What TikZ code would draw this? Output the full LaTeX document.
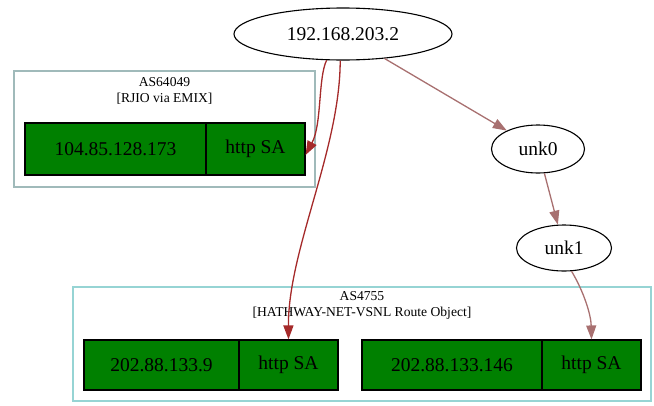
\documentclass[tikz,border=0pt]{standalone}
\usepackage{fontspec}
\setmainfont{Liberation Serif}
\usetikzlibrary{arrows.meta,shapes.geometric}
\definecolor{webgreen}{RGB}{0,128,0}
\definecolor{edgeB}{RGB}{165,42,42}
\definecolor{edgeR}{RGB}{168,112,112}
\definecolor{clA}{RGB}{160,186,186}
\definecolor{clB}{RGB}{150,212,212}
\tikzset{
  ellnode/.style={ellipse, draw=black, line width=1.1pt, fill=white, inner sep=0pt,
    font=\fontsize{19.5}{22}\selectfont},
  cellbox/.style={rectangle, draw=black, line width=1.1pt, fill=webgreen, inner sep=0pt,
    font=\fontsize{19.5}{22}\selectfont},
  clusterbox/.style={rectangle, line width=1.3pt, inner sep=0pt, fill=none},
  clusterlbl/.style={align=center, inner sep=0pt, font=\fontsize{13.6}{16}\selectfont},
  edgeline/.style={line width=1.3pt, -{Triangle[length=14pt,width=10pt]}},
}
\begin{document}
\begin{tikzpicture}[x=1pt,y=-1pt]
\useasboundingbox (0,0) rectangle (654,405);
% clusters
\node[clusterbox, draw=clA, minimum width=301, minimum height=116] (clusterA) at (164.5,129) {};
\node[clusterlbl] (clusterAlbl) at (164.5,91) {AS64049\\{[}RJIO via EMIX{]}};
\node[clusterbox, draw=clB, minimum width=578, minimum height=114] (clusterB) at (362,344) {};
\node[clusterlbl] (clusterBlbl) at (362,305.5) {AS4755\\{[}HATHWAY-NET-VSNL Route Object{]}};
% ellipses
\node[ellnode, minimum width=218, minimum height=52] (top) at (343,34) {192.168.203.2};
\node[ellnode, minimum width=93, minimum height=48] (unk0) at (538,149) {unk0};
\node[ellnode, minimum width=95, minimum height=46] (unk1) at (564,248) {unk1};
% records
\node[cellbox, minimum width=181, minimum height=52] (r1l) at (115.5,149) {104.85.128.173};
\node[cellbox, minimum width=99, minimum height=52] (r1r) at (255.5,149) {http SA};
\node[cellbox, minimum width=155, minimum height=50] (r2l) at (161.5,365) {202.88.133.9};
\node[cellbox, minimum width=99, minimum height=50] (r2r) at (288.5,365) {http SA};
\node[cellbox, minimum width=180, minimum height=50] (r3l) at (452,365) {202.88.133.146};
\node[cellbox, minimum width=99, minimum height=50] (r3r) at (591.5,365) {http SA};
% edges
\draw[edgeline, draw=edgeB] (top.-122) .. controls (318,78) and (322,124) .. ([yshift=-6pt]r1r.east);
\draw[edgeline, draw=edgeB] (top.-96) .. controls (340,150) and (288,250) .. (r2r.north);
\draw[edgeline, draw=edgeR] (top) -- (unk0);
\draw[edgeline, draw=edgeR] (unk0) -- (unk1);
\draw[edgeline, draw=edgeR] (unk1.-72) .. controls (584,292) and (591,315) .. (r3r.north);
\end{tikzpicture}
\end{document}
